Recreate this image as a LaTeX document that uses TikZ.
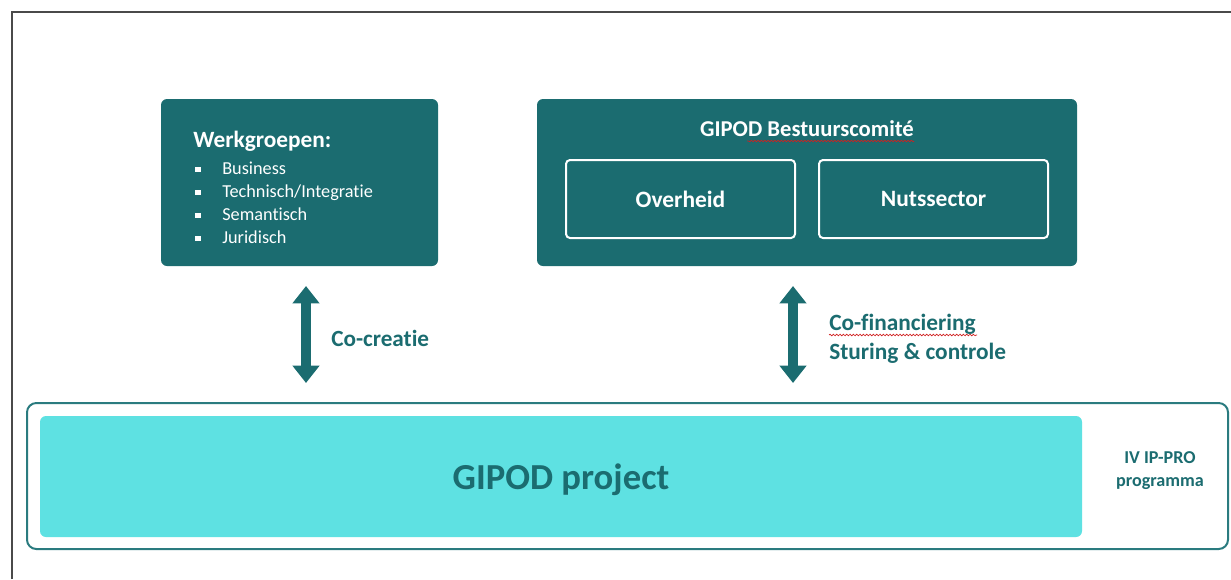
\documentclass[tikz,border=0pt]{standalone}
\usepackage{fontspec}
\setmainfont{Carlito}[Ligatures=NoCommon]
\usetikzlibrary{arrows.meta,decorations.pathmorphing}
\definecolor{teal1}{HTML}{1B6C70}
\definecolor{teal2}{HTML}{2A7B7F}
\definecolor{cyan1}{HTML}{5EE1E2}
\definecolor{frame1}{HTML}{4A4A4A}
\definecolor{squig}{HTML}{D02020}
\tikzset{
  darkbox/.style={fill=teal1, draw=none, rounded corners=4.5pt, inner sep=0pt},
  innerbox/.style={draw=white, line width=1.5pt, rounded corners=3pt, inner sep=0pt,
    text=white, font=\bfseries\fontsize{17.6}{21}\selectfont},
  progbox/.style={draw=teal2, line width=1.5pt, rounded corners=7pt, fill=white, inner sep=0pt},
  projbox/.style={fill=cyan1, draw=none, rounded corners=4.5pt, inner sep=0pt,
    text=teal1, font=\bfseries\fontsize{27.5}{32}\selectfont},
  bigarrow/.style={line width=7.5pt, draw=teal1,
    {Triangle[width=19.5pt,length=13pt]}-{Triangle[width=19.5pt,length=13pt]}},
  label1/.style={text=teal1, anchor=west, inner sep=0pt, align=left},
  squiggle/.style={draw=squig, line width=0.5pt, decorate,
    decoration={snake, amplitude=0.6pt, segment length=2.5pt}},
  bulletsq/.style={fill=white, draw=none, minimum size=4pt, inner sep=0pt}
}
\begin{document}
\begin{tikzpicture}[x=0.75pt, y=-0.75pt]
\useasboundingbox (0,0) rectangle (1231,579);
% outer frame (right and bottom edges lie beyond the picture)
\draw[frame1, line width=1.5pt] (12,579) -- (12,12) -- (1231,12);

% Werkgroepen
\node[darkbox, minimum width=277*0.75pt, minimum height=167*0.75pt] (wg) at (299.5,182.5) {};
\node[text=white, anchor=base west, inner sep=0pt, font=\bfseries\fontsize{17.5}{21}\selectfont] (wgt) at (193,147) {Werkgroepen:};
\foreach \t/\y [count=\i] in {Business/174, Technisch\slash Integratie/197, Semantisch/220, Juridisch/243}{
  \node[bulletsq] (b\i) at (198,\y-4.5) {};
  \node[text=white, anchor=base west, inner sep=0pt, font=\fontsize{13.7}{16}\selectfont] (w\i) at (222,\y) {\t};
}

% Bestuurscomite
\node[darkbox, minimum width=540*0.75pt, minimum height=167*0.75pt] (bc) at (807,182.5) {};
\node[text=white, anchor=base, inner sep=0pt, font=\bfseries\fontsize{17}{20}\selectfont] (bct) at (807,136) {GIPOD Bestuurscomité};
\draw[squiggle] (bct.base east) ++(0,5) coordinate (sq1e) -- ++(-167,0) coordinate (sq1s);
\node[innerbox, minimum width=229*0.75pt, minimum height=78*0.75pt] (ov) at (680.5,199) {Overheid};
\node[innerbox, minimum width=229*0.75pt, minimum height=78*0.75pt] (nu) at (933.5,199) {Nutssector};

% programma and project
\node[progbox, minimum width=1201*0.75pt, minimum height=146*0.75pt] (pg) at (627.5,476) {};
\node[projbox, text depth=0pt, minimum width=1042*0.75pt, minimum height=121*0.75pt] (pj) at (561,476.5) {GIPOD project};
\node[text=teal1, align=center, inner sep=0pt, font=\bfseries\fontsize{13.6}{17.25}\selectfont] (iv) at (1160,471) {IV IP-PRO\\programma};

% arrows
\coordinate (a1t) at (306,286);
\coordinate (a1b) at (306,383);
\coordinate (a2t) at (793,286);
\coordinate (a2b) at (793,383);
\draw[bigarrow] (a1t) -- (a1b);
\draw[bigarrow] (a2t) -- (a2b);

\node[label1, font=\bfseries\fontsize{17.4}{21}\selectfont] (cc) at (331,338) {Co-creatie};
\node[label1, anchor=base west, font=\bfseries\fontsize{17.5}{21.75}\selectfont] (cf) at (829,359) {Co-financiering\\Sturing \& controle};
\draw[squiggle] (829,335) -- (977,335);
\end{tikzpicture}
\end{document}
